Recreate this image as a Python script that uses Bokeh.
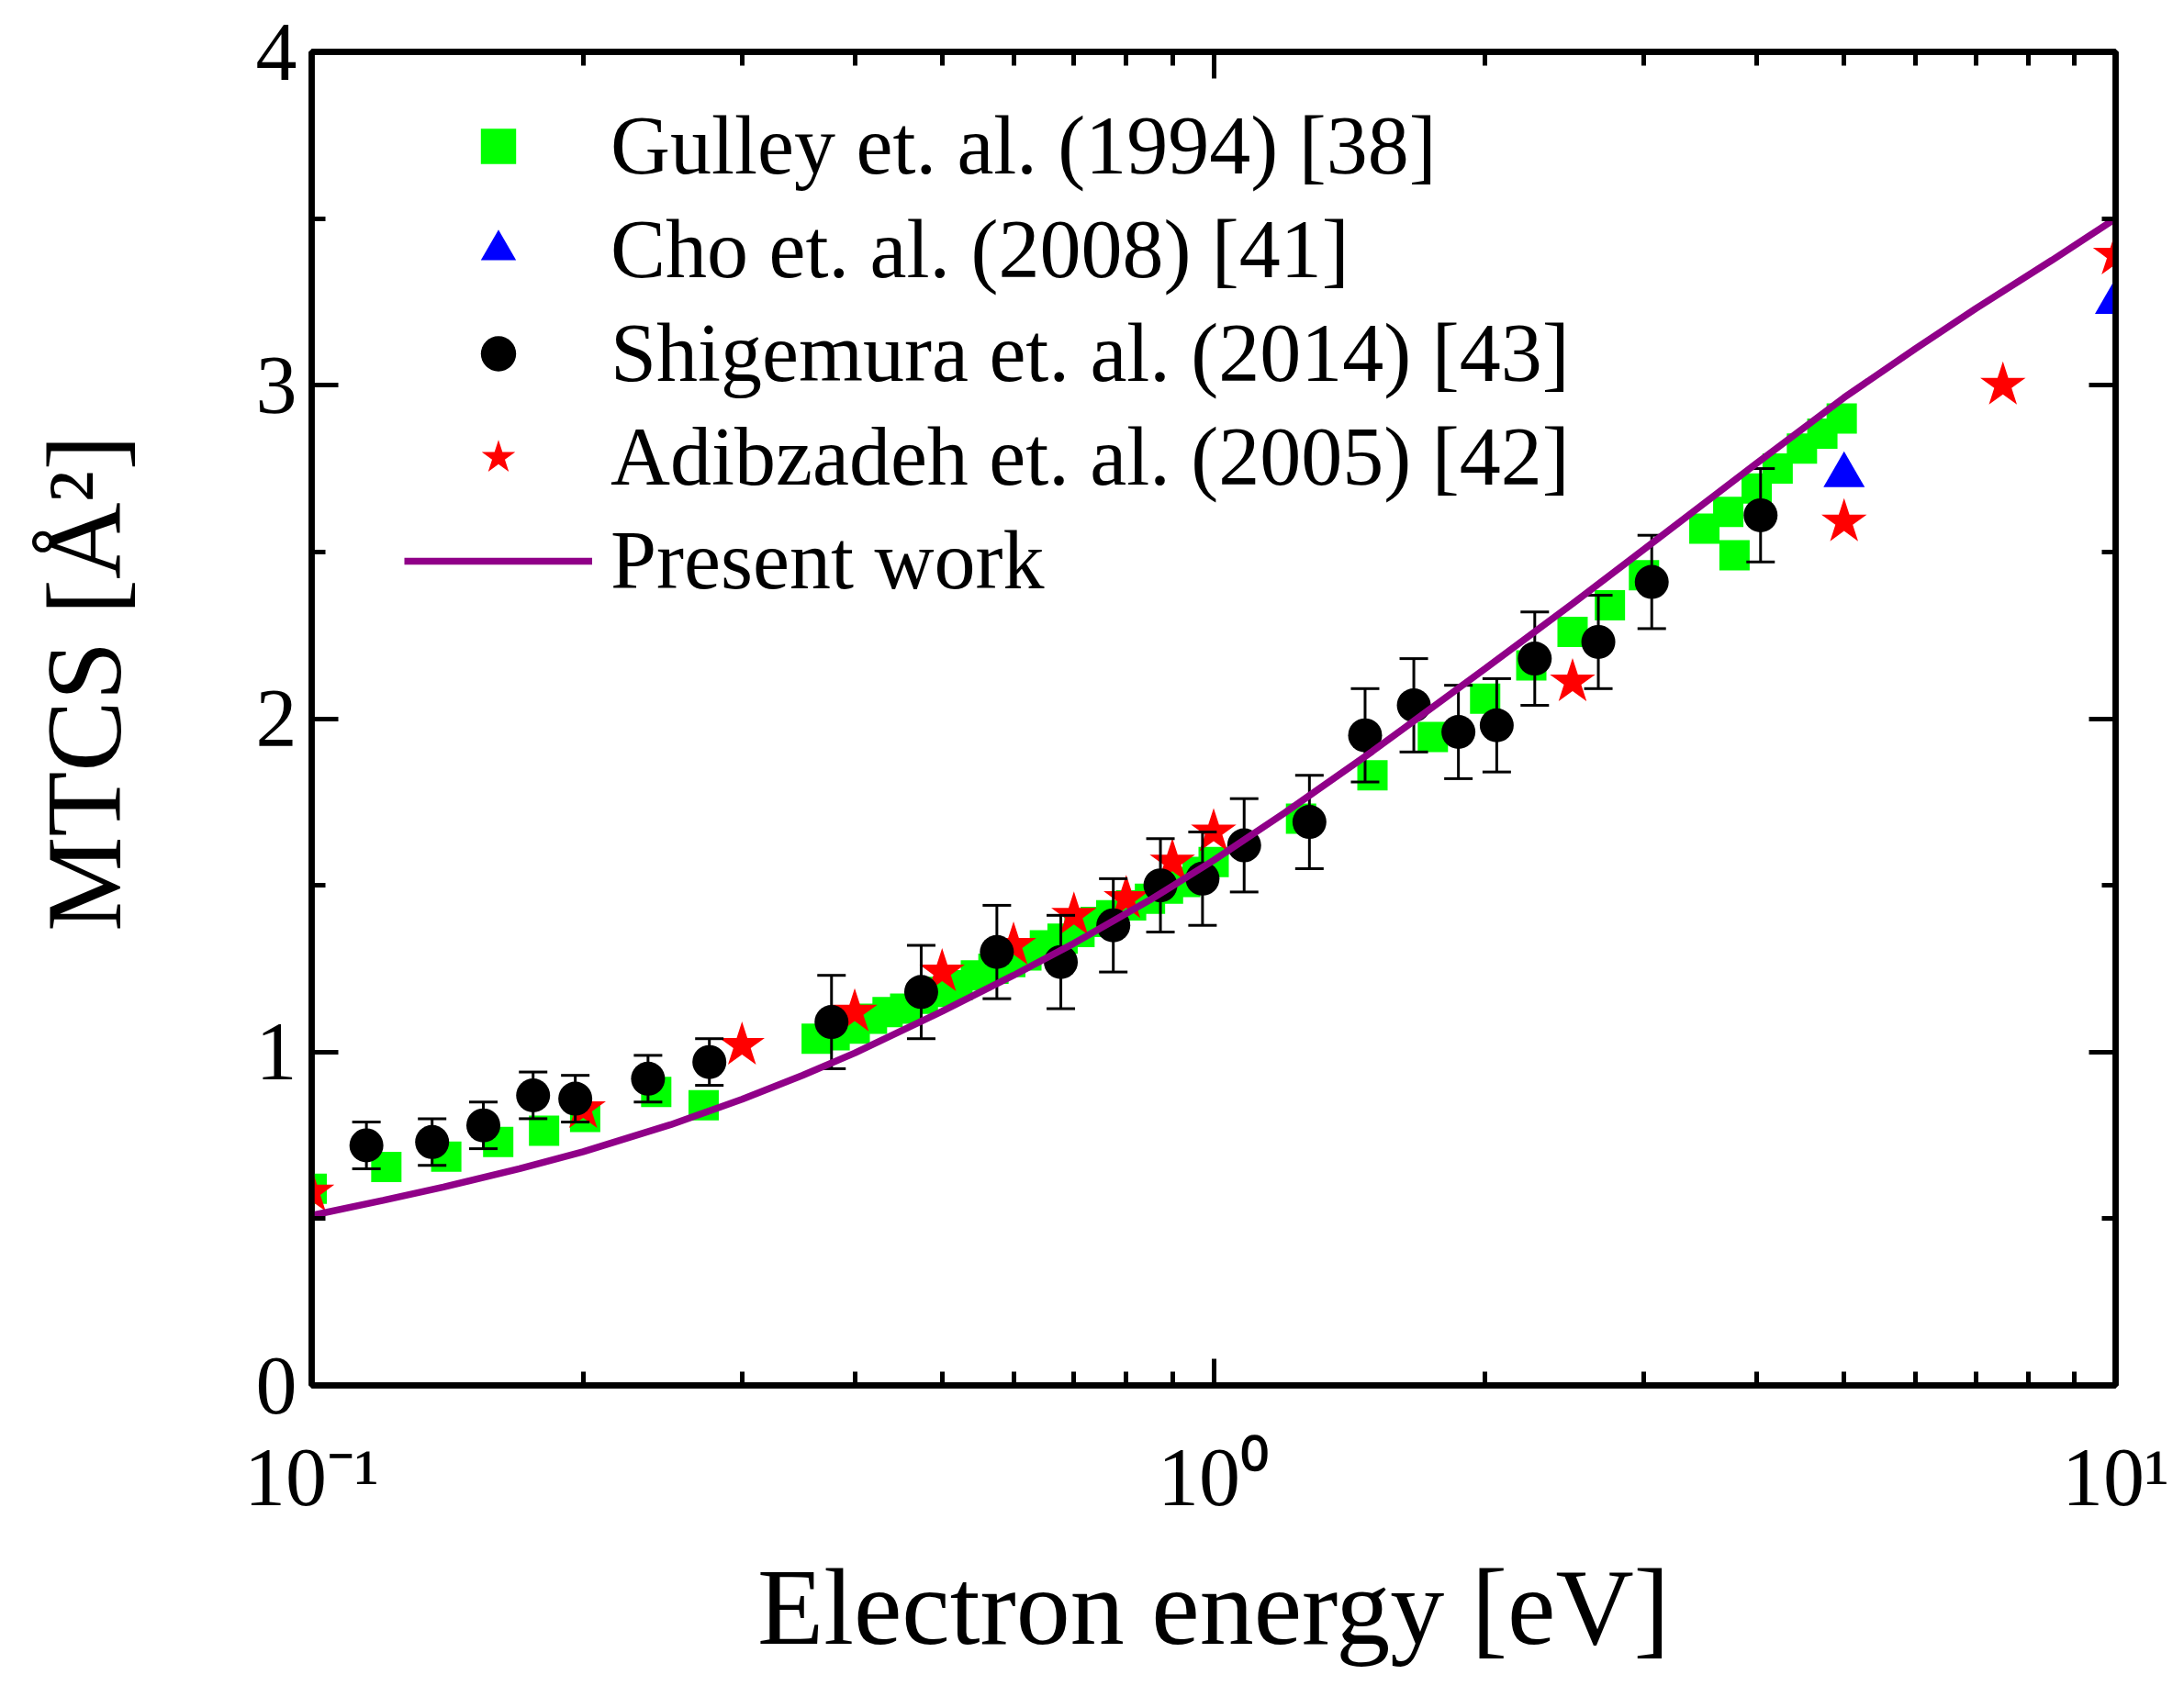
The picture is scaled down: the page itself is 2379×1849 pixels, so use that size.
import numpy as np
from bokeh.plotting import figure
from bokeh.models import ColumnDataSource, FixedTicker, LogAxis, LinearAxis, Legend, LegendItem
from bokeh.embed import file_html
from bokeh.resources import INLINE

# Gulley et. al. (1994) [38]
gulley_energy = [0.1, 0.121, 0.141, 0.161, 0.181, 0.201, 0.241, 0.272,
                 0.363, 0.38, 0.40, 0.418, 0.435, 0.455, 0.476, 0.50, 0.52, 0.545, 0.57, 0.595,
                 0.62, 0.65, 0.68, 0.71, 0.74, 0.77, 0.81, 0.85, 0.89, 0.93, 0.96, 1.0,
                 1.25, 1.5, 1.75, 2.0, 2.25, 2.5, 2.75, 3.0, 3.5, 3.72, 3.78, 4.0, 4.22, 4.49, 4.73, 4.97]
gulley_mtcs = [0.59, 0.655, 0.686, 0.73, 0.764, 0.805, 0.88, 0.84,
               1.04, 1.05, 1.07, 1.10, 1.12, 1.13, 1.16, 1.18, 1.20, 1.23, 1.25, 1.27,
               1.29, 1.32, 1.34, 1.36, 1.39, 1.41, 1.44, 1.46, 1.49, 1.51, 1.54, 1.57,
               1.70, 1.83, 1.945, 2.06, 2.16, 2.26, 2.34, 2.43, 2.57, 2.62, 2.49, 2.69, 2.75, 2.81, 2.855, 2.90]

# Cho et. al. (2008) [41]
cho_energy = [5.0, 10.0]
cho_mtcs = [2.73, 3.25]

# Shigemura et. al. (2014) [43]
shig_energy = [0.115, 0.136, 0.155, 0.176, 0.196, 0.236, 0.276, 0.377, 0.474, 0.575, 0.677, 0.774,
               0.873, 0.972, 1.081, 1.277, 1.472, 1.667, 1.868, 2.06, 2.27, 2.67, 3.06, 4.04]
shig_mtcs = [0.72, 0.73, 0.78, 0.87, 0.86, 0.92, 0.97, 1.09, 1.18, 1.30, 1.27, 1.38,
             1.50, 1.52, 1.62, 1.69, 1.95, 2.04, 1.96, 1.98, 2.18, 2.23, 2.41, 2.61]
shig_err = [0.07, 0.07, 0.07, 0.07, 0.07, 0.07, 0.07, 0.14, 0.14, 0.14, 0.14, 0.14,
            0.14, 0.14, 0.14, 0.14, 0.14, 0.14, 0.14, 0.14, 0.14, 0.14, 0.14, 0.14]

# Adibzadeh et. al. (2005) [42]
adib_energy = [0.1, 0.2, 0.3, 0.4, 0.5, 0.6, 0.7, 0.8, 0.9, 1.0, 2.5, 5.0, 7.5, 10.0]
adib_mtcs = [0.58, 0.83, 1.02, 1.12, 1.24, 1.32, 1.41, 1.46, 1.57, 1.66, 2.11, 2.59, 3.0, 3.39]

# Present work
calc_energy = [0.1, 0.12, 0.14, 0.17, 0.2, 0.25, 0.3, 0.35, 0.4, 0.5, 0.6, 0.7, 0.85, 1.0,
               1.2, 1.5, 2.0, 2.5, 3.0, 4.0, 5.0, 6.0, 7.0, 8.5, 10.0]
calc_mtcs = [0.51, 0.555, 0.595, 0.650, 0.701, 0.782, 0.858, 0.93, 0.997, 1.122, 1.230, 1.326,
             1.456, 1.575, 1.718, 1.902, 2.15, 2.345, 2.508, 2.766, 2.963, 3.11, 3.23, 3.375, 3.50]

x_major = [0.1, 1, 10]
x_minor = [0.2, 0.3, 0.4, 0.5, 0.6, 0.7, 0.8, 0.9, 2, 3, 4, 5, 6, 7, 8, 9]
x_labels = {0.1: "10\u207b\u00b9", 1: "10\u2070", 10: "10\u00b9"}
y_major = [0, 1, 2, 3, 4]
y_minor = [0.5, 1.5, 2.5, 3.5]

FONT = "Liberation Serif"

p = figure(x_axis_type="log", x_range=(0.1, 10), y_range=(0, 4),
           frame_width=1965, frame_height=1453,
           min_border_left=339, min_border_right=67, min_border_top=56, min_border_bottom=324,
           output_backend="svg", toolbar_location=None)
p.xgrid.visible = False
p.ygrid.visible = False
p.outline_line_color = "black"
p.outline_line_width = 6.5
p.background_fill_color = "white"
p.border_fill_color = "white"

p.add_layout(LogAxis(), "above")
p.add_layout(LinearAxis(), "right")

for ax in p.xaxis:
    ax.ticker = FixedTicker(ticks=x_major, minor_ticks=x_minor)
for ax in p.yaxis:
    ax.ticker = FixedTicker(ticks=y_major, minor_ticks=y_minor)

for ax in p.axis:
    ax.axis_line_width = 6.5
    ax.axis_line_color = "black"
    ax.major_tick_in = 29
    ax.major_tick_out = 0
    ax.minor_tick_in = 15
    ax.minor_tick_out = 0
    ax.major_tick_line_width = 5
    ax.minor_tick_line_width = 5
    ax.major_tick_line_color = "black"
    ax.minor_tick_line_color = "black"
    ax.major_label_text_font = FONT
    ax.major_label_text_font_size = "90px"
    ax.major_label_text_color = "black"
    ax.axis_label_text_font = FONT
    ax.axis_label_text_font_style = "normal"
    ax.axis_label_text_color = "black"

# the top and right axes only carry ticks
for ax in p.above + p.right:
    ax.major_label_text_font_size = "1px"
    ax.major_label_text_alpha = 0
    ax.major_label_standoff = 0

p.below[0].major_label_overrides = x_labels
p.below[0].major_label_standoff = 50
p.below[0].axis_label = "Electron energy [eV]"
p.below[0].axis_label_text_font_size = "118px"
p.below[0].axis_label_standoff = 24
p.left[0].major_label_standoff = 16
# two narrow leading spaces nudge the title up a little, as in the original
p.left[0].axis_label = "\u2004\u2004MTCS [Å²]"
p.left[0].axis_label_text_font_size = "116px"
p.left[0].axis_label_standoff = 120

gulley_src = ColumnDataSource(data=dict(x=gulley_energy, y=gulley_mtcs))
cho_src = ColumnDataSource(data=dict(x=cho_energy, y=cho_mtcs))
adib_src = ColumnDataSource(data=dict(x=adib_energy, y=adib_mtcs))
shig_y = np.array(shig_mtcs)
shig_e = np.array(shig_err)
shig_src = ColumnDataSource(data=dict(x=shig_energy, y=shig_mtcs,
                                      lo=shig_y - shig_e, hi=shig_y + shig_e))
calc_src = ColumnDataSource(data=dict(x=calc_energy, y=calc_mtcs))

r_gulley = p.scatter("x", "y", source=gulley_src, marker="square", size=33,
                     fill_color="#00ff00", line_color=None)
r_cho = p.scatter("x", "y", source=cho_src, marker="triangle", size=45,
                  fill_color="#0000ff", line_color=None)
r_adib = p.scatter("x", "y", source=adib_src, marker="star", size=52,
                   fill_color="#ff0000", line_color=None)
# error bars
p.segment("x", "lo", "x", "hi", source=shig_src, line_color="black", line_width=3)
p.scatter("x", "lo", source=shig_src, marker="dash", size=31, line_color="black", line_width=3)
p.scatter("x", "hi", source=shig_src, marker="dash", size=31, line_color="black", line_width=3)
r_shig = p.scatter("x", "y", source=shig_src, marker="circle", size=37,
                   fill_color="black", line_color=None)
r_calc = p.line("x", "y", source=calc_src, line_color="#900088", line_width=7.5)

legend = Legend(items=[
    LegendItem(label="Gulley et. al. (1994) [38]", renderers=[r_gulley]),
    LegendItem(label="Cho et. al. (2008) [41]", renderers=[r_cho]),
    LegendItem(label="Shigemura et. al. (2014) [43]", renderers=[r_shig]),
    LegendItem(label="Adibzadeh et. al. (2005) [42]", renderers=[r_adib]),
    LegendItem(label="Present work", renderers=[r_calc]),
], location=(101, 847))
legend.label_text_font = FONT
legend.label_text_font_size = "90px"
legend.label_text_color = "black"
legend.glyph_width = 205
legend.glyph_height = 96
legend.label_height = 96
legend.label_standoff = 20
legend.spacing = 10
legend.padding = 0
legend.margin = 0
legend.border_line_color = None
legend.background_fill_alpha = 0
p.add_layout(legend)

open("out.html", "w").write(file_html(p, INLINE))
